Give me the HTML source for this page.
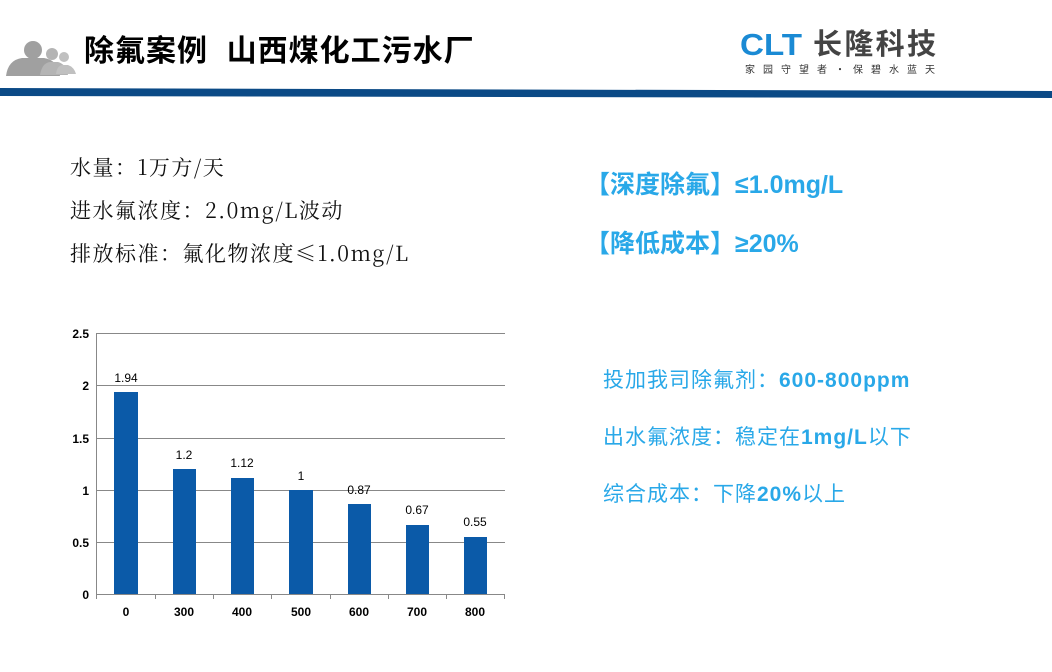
<!DOCTYPE html>
<html><head><meta charset="utf-8"><style>
body{margin:0;width:1052px;height:672px;background:#fff;position:relative;overflow:hidden;font-family:"Liberation Sans","Noto Sans CJK SC",sans-serif}
.a{position:absolute;white-space:nowrap}
</style></head><body>
<svg class="a" style="left:0;top:0" width="1052" height="110">
<g fill="#a0a0a0">
<circle cx="33" cy="50" r="9"/><path d="M6 76 Q8 60 22 58 L44 58 Q58 60 60 76 Z"/>
<circle cx="52" cy="54" r="6" fill="#b4b4b4"/><path d="M40 75 Q42 63 50 62 L58 62 Q66 64 68 75Z" fill="#b4b4b4"/>
<circle cx="64" cy="57" r="5" fill="#c0c0c0"/><path d="M56 74 Q57 66 62 65 L68 65 Q74 67 76 74Z" fill="#c0c0c0"/>
</g>
<polygon points="0,88 1052,91 1052,98 0,96" fill="#0b4a86"/>
<text x="740" y="55" font-size="31" font-weight="bold" fill="#1a8ad4" font-family="Liberation Sans" textLength="62" lengthAdjust="spacingAndGlyphs">CLT</text>
<text x="813" y="54" font-size="29" font-weight="bold" fill="#444" font-family="Noto Sans CJK SC" textLength="123">长隆科技</text>
<text x="745" y="73" font-size="10" fill="#333" font-family="Noto Sans CJK SC" textLength="190">家园守望者·保碧水蓝天</text>
</svg>
<div class="a" style="left:84px;top:26px;font-size:30px;font-weight:bold;color:#000;letter-spacing:1px">除氟案例&nbsp;&nbsp;山西煤化工污水厂</div>
<div class="a" style="left:70px;top:146px;font-size:21px;line-height:43px;color:#111;letter-spacing:1.5px;font-family:'Noto Serif CJK SC','Liberation Serif',serif">水量：1万方/天<br>进水氟浓度：2.0mg/L波动<br>排放标准：氟化物浓度≤1.0mg/L</div>
<div class="a" style="left:585px;top:156px;font-size:25px;font-weight:bold;color:#29a8e8;line-height:59px">【深度除氟】≤1.0mg/L<br>【降低成本】≥20%</div>
<div class="a" style="left:603px;top:352px;font-size:21px;color:#29a8e8;line-height:57px;letter-spacing:1px">投加我司除氟剂：<b>600-800ppm</b><br>出水氟浓度：稳定在<b>1mg/L</b>以下<br>综合成本：下降<b>20%</b>以上</div>
<svg class="a" style="left:0;top:0" width="1052" height="672" font-family="Liberation Sans" font-size="12">
<g stroke="#888" stroke-width="1">
<line x1="96" y1="333.5" x2="505" y2="333.5"/><line x1="96" y1="385.5" x2="505" y2="385.5"/>
<line x1="96" y1="438.5" x2="505" y2="438.5"/><line x1="96" y1="490.5" x2="505" y2="490.5"/>
<line x1="96" y1="542.5" x2="505" y2="542.5"/><line x1="96" y1="594.5" x2="505" y2="594.5"/>
<line x1="96.5" y1="333" x2="96.5" y2="599"/>
<line x1="155.5" y1="594" x2="155.5" y2="599"/><line x1="213.5" y1="594" x2="213.5" y2="599"/><line x1="271.5" y1="594" x2="271.5" y2="599"/><line x1="330.5" y1="594" x2="330.5" y2="599"/><line x1="388.5" y1="594" x2="388.5" y2="599"/><line x1="446.5" y1="594" x2="446.5" y2="599"/><line x1="504.5" y1="594" x2="504.5" y2="599"/>
</g>
<g font-weight="bold" text-anchor="end"><text x="89" y="338">2.5</text><text x="89" y="390">2</text><text x="89" y="443">1.5</text><text x="89" y="495">1</text><text x="89" y="547">0.5</text><text x="89" y="599">0</text></g>
<g fill="#0b5aa8">
<rect x="114" y="392" width="24" height="202"/><rect x="173" y="469" width="23" height="125"/><rect x="231" y="478" width="23" height="116"/><rect x="289" y="490" width="24" height="104"/><rect x="348" y="504" width="23" height="90"/><rect x="406" y="525" width="23" height="69"/><rect x="464" y="537" width="23" height="57"/>
</g>
<g text-anchor="middle"><text x="126" y="382">1.94</text><text x="184" y="459">1.2</text><text x="242" y="467">1.12</text><text x="301" y="480">1</text><text x="359" y="494">0.87</text><text x="417" y="514">0.67</text><text x="475" y="526">0.55</text></g>
<g text-anchor="middle" font-weight="bold"><text x="126" y="616">0</text><text x="184" y="616">300</text><text x="242" y="616">400</text><text x="301" y="616">500</text><text x="359" y="616">600</text><text x="417" y="616">700</text><text x="475" y="616">800</text></g>
</svg>
</body></html>
